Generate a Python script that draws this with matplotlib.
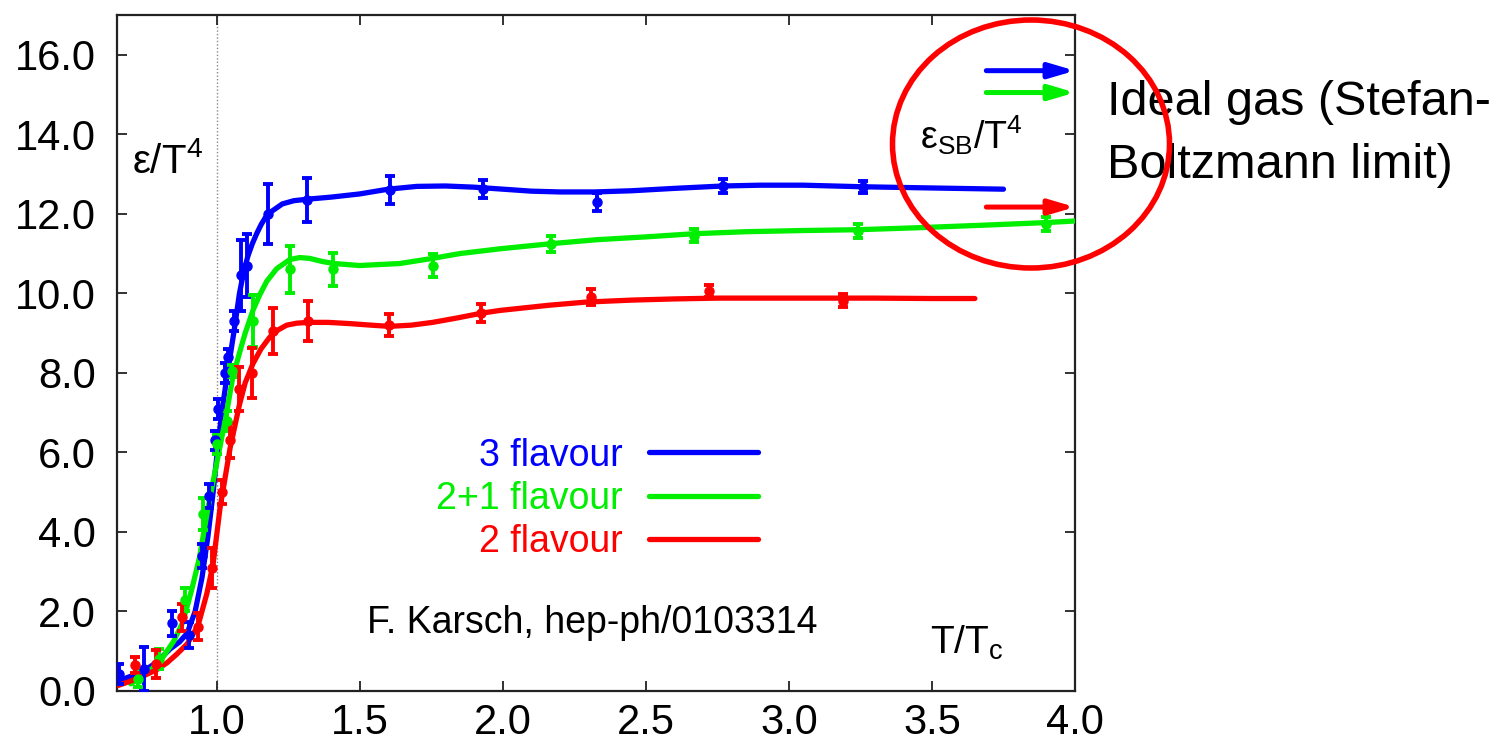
import matplotlib
matplotlib.use("Agg")
import matplotlib.pyplot as plt
from matplotlib.patches import Ellipse, FancyArrowPatch

plt.rcParams['font.family'] = ['Liberation Sans', 'DejaVu Sans']
plt.rcParams['mathtext.fontset'] = 'custom'
plt.rcParams['mathtext.rm'] = 'Liberation Sans'
plt.rcParams['mathtext.it'] = 'Liberation Sans'
plt.rcParams['mathtext.default'] = 'regular'

# ---------------- data ----------------
labels = ["3 flavour", "2+1 flavour", "2 flavour"]
colors = ["#0000ff", "#00ee00", "#ff0000"]

# 3 flavour data points
b_x = [0.66, 0.745, 0.845, 0.905, 0.95, 0.975, 0.995, 1.005, 1.03, 1.04, 1.06, 1.085, 1.105, 1.18, 1.315, 1.605, 1.93, 2.33, 2.77, 3.26]
b_y = [0.43, 0.55, 1.70, 1.40, 3.40, 4.90, 6.30, 7.10, 8.00, 8.40, 9.30, 10.45, 10.70, 12.00, 12.35, 12.60, 12.63, 12.30, 12.70, 12.67]
b_err = [0.25, 0.55, 0.32, 0.33, 0.30, 0.30, 0.25, 0.25, 0.25, 0.20, 0.25, 0.90, 0.80, 0.75, 0.55, 0.35, 0.22, 0.22, 0.18, 0.15]

# 2+1 flavour data points
g_x = [0.725, 0.80, 0.89, 0.953, 1.0, 1.036, 1.054, 1.127, 1.256, 1.406, 1.755, 2.17, 2.67, 3.24, 3.90]
g_y = [0.30, 0.80, 2.30, 4.45, 6.20, 6.80, 8.05, 9.30, 10.60, 10.60, 10.70, 11.25, 11.45, 11.57, 11.75]
g_err = [0.20, 0.25, 0.30, 0.40, 0.25, 0.25, 0.15, 0.65, 0.58, 0.42, 0.30, 0.20, 0.17, 0.17, 0.18]

# 2 flavour data points
r_x = [0.715, 0.79, 0.878, 0.935, 0.984, 1.02, 1.047, 1.08, 1.123, 1.197, 1.32, 1.604, 1.925, 2.31, 2.72, 3.19]
r_y = [0.65, 0.68, 1.85, 1.62, 3.10, 5.00, 6.30, 7.60, 8.00, 9.05, 9.30, 9.20, 9.50, 9.90, 10.05, 9.82]
r_err = [0.20, 0.35, 0.35, 0.33, 0.50, 0.30, 0.45, 0.55, 0.63, 0.57, 0.50, 0.28, 0.22, 0.20, 0.15, 0.17]

# fitted curves
bc_x = [0.655, 0.70, 0.745, 0.79, 0.838, 0.87, 0.897, 0.925, 0.949, 0.97, 0.988, 1.005, 1.019, 1.033, 1.047, 1.06, 1.08, 1.095, 1.11, 1.125, 1.14, 1.155, 1.17, 1.19, 1.23, 1.27, 1.32, 1.4, 1.5, 1.6, 1.7, 1.8, 1.9, 2.0, 2.1, 2.2, 2.32, 2.45, 2.6, 2.77, 2.9, 3.05, 3.26, 3.5, 3.75]
bc_y = [0.25, 0.37, 0.50, 0.72, 1.06, 1.23, 1.45, 2.0, 2.85, 3.9, 5.0, 6.2, 7.05, 7.75, 8.4, 9.0, 10.0, 10.55, 10.95, 11.25, 11.5, 11.72, 11.9, 12.05, 12.25, 12.33, 12.37, 12.42, 12.5, 12.62, 12.69, 12.7, 12.67, 12.62, 12.57, 12.55, 12.55, 12.58, 12.64, 12.7, 12.72, 12.72, 12.68, 12.65, 12.62]

gc_x = [0.70, 0.745, 0.80, 0.85, 0.88, 0.9, 0.915, 0.94, 0.97, 1.005, 1.03, 1.057, 1.08, 1.10, 1.127, 1.15, 1.175, 1.21, 1.256, 1.29, 1.325, 1.37, 1.41, 1.5, 1.64, 1.755, 1.85, 1.99, 2.17, 2.33, 2.5, 2.67, 2.85, 3.05, 3.24, 3.45, 3.7, 3.9, 4.0]
gc_y = [0.18, 0.38, 0.72, 1.25, 1.7, 2.2, 2.6, 3.35, 4.6, 5.9, 6.8, 7.9, 8.5, 9.0, 9.57, 9.95, 10.3, 10.62, 10.85, 10.9, 10.88, 10.8, 10.75, 10.7, 10.75, 10.88, 11.0, 11.12, 11.25, 11.35, 11.42, 11.5, 11.55, 11.58, 11.6, 11.65, 11.72, 11.78, 11.82]

rc_x = [0.652, 0.70, 0.744, 0.79, 0.827, 0.86, 0.897, 0.935, 0.966, 0.988, 1.012, 1.047, 1.08, 1.10, 1.127, 1.155, 1.186, 1.215, 1.245, 1.28, 1.32, 1.39, 1.464, 1.54, 1.604, 1.68, 1.755, 1.84, 1.925, 1.99, 2.16, 2.29, 2.45, 2.6, 2.75, 2.9, 3.1, 3.3, 3.5, 3.65]
rc_y = [0.13, 0.25, 0.38, 0.53, 0.71, 0.92, 1.18, 1.64, 2.45, 3.2, 4.6, 6.1, 7.2, 7.75, 8.23, 8.6, 8.9, 9.08, 9.2, 9.25, 9.27, 9.27, 9.24, 9.2, 9.17, 9.2, 9.27, 9.38, 9.5, 9.57, 9.7, 9.78, 9.83, 9.86, 9.88, 9.88, 9.88, 9.88, 9.87, 9.87]

# Stefan-Boltzmann limits (3, 2+1, 2 flavour)
sb_values = [15.6, 15.05, 12.17]
sb_arrow_start = 3.69

x_ticks = [1.0, 1.5, 2.0, 2.5, 3.0, 3.5, 4.0]
y_ticks = [0.0, 2.0, 4.0, 6.0, 8.0, 10.0, 12.0, 14.0, 16.0]

# ---------------- figure ----------------
fig = plt.figure(figsize=(14.9, 7.51), dpi=100)
ax = fig.add_axes([117 / 1490, 1 - 691 / 751, (1075 - 117) / 1490, (691 - 15) / 751])
ax.set_xlim(0.652, 4.0)
ax.set_ylim(0.0, 17.0)

ax.axvline(1.0, color="#888888", lw=1.0, ls=(0, (1, 1.5)), zorder=1)

curves = [(bc_x, bc_y), (gc_x, gc_y), (rc_x, rc_y)]
points = [(b_x, b_y, b_err), (g_x, g_y, g_err), (r_x, r_y, r_err)]
for (cx, cy), (px, py, pe), col, lab in zip(curves, points, colors, labels):
    ax.plot(cx, cy, color=col, lw=3.8, solid_capstyle="round", label=lab, zorder=3)
    ax.errorbar(px, py, yerr=pe, fmt="o", color=col, ms=6.5, elinewidth=2.8,
                capsize=3.8, capthick=2.8, zorder=4)

for val, col in zip(sb_values, colors):
    arr = FancyArrowPatch((sb_arrow_start, val), (4.0, val),
                          arrowstyle="-|>,head_length=0.95,head_width=0.28",
                          mutation_scale=16, color=col, lw=3.6,
                          shrinkA=0, shrinkB=0, clip_on=False, zorder=5)
    ax.add_patch(arr)

ax.set_xticks(x_ticks)
ax.set_yticks(y_ticks)
ax.set_xticklabels([f"{v:.1f}" for v in x_ticks])
ax.set_yticklabels([f"{v:.1f}" for v in y_ticks])
ax.tick_params(direction="in", length=7, width=1.3, top=True, right=True,
               labelsize=30, colors="#222222", labelcolor="black")
ax.tick_params(axis="x", pad=9)
ax.tick_params(axis="y", pad=15)
for s in ax.spines.values():
    s.set_linewidth(1.6)
    s.set_color("#222222")

# in-plot labels
ax.text(0.705, 13.02, r"ε/T$^{4}$", fontsize=29, ha="left", va="baseline")
ax.text(3.46, 13.65, r"ε$_{\rm SB}$/T$^{4}$", fontsize=27, ha="left", va="baseline")
ax.text(3.495, 0.94, r"T/T$_{\rm c}$", fontsize=28, ha="left", va="baseline")
ax.text(1.527, 1.47, "F. Karsch, hep-ph/0103314", fontsize=27, ha="left", va="baseline")

leg = ax.legend(loc="upper right", bbox_to_anchor=(0.669, 0.375), frameon=False,
                markerfirst=False, fontsize=27, handlelength=2.9, handletextpad=0.7,
                labelspacing=0.2, borderpad=0, borderaxespad=0, labelcolor="linecolor")

# annotation outside the axes
fig.text(1107 / 1490, 1 - 115 / 751, "Ideal gas (Stefan-", fontsize=35, ha="left", va="baseline")
fig.text(1107 / 1490, 1 - 178 / 751, "Boltzmann limit)", fontsize=35, ha="left", va="baseline")

circle = Ellipse((1031 / 1490, 1 - 144 / 751), 277 / 1490, 248 / 751,
                 transform=fig.transFigure, fill=False, edgecolor="#ff0000", lw=4.0, zorder=10)
fig.add_artist(circle)

fig.savefig("out.png", dpi=100)
